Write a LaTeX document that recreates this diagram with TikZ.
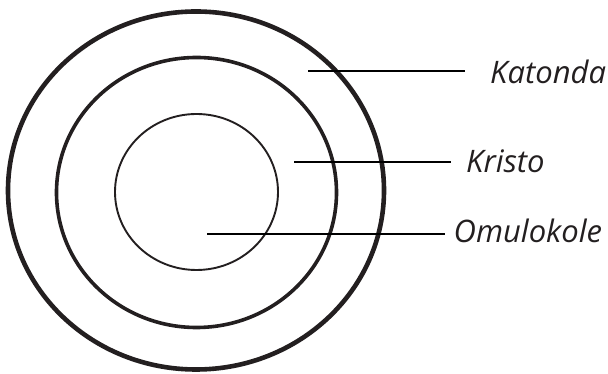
\documentclass[tikz,border=0pt]{standalone}
\usepackage{fontspec}
\setmainfont{Open Sans}
\definecolor{txt}{HTML}{231F20}
\begin{document}
\begin{tikzpicture}[x=1pt,y=1pt,
  ring/.style={draw=txt},
  leader/.style={draw=black,line width=2.2pt},
  lbl/.style={anchor=base west,inner sep=0pt,text=txt,font=\itshape\fontsize{31}{36}\selectfont}]
\useasboundingbox (0,0) rectangle (608,374);
\draw[ring,line width=4.6pt] (196,183.5) ellipse [x radius=188,y radius=179];
\draw[ring,line width=3.6pt] (196.5,181.5) ellipse [x radius=140,y radius=135];
\draw[ring,line width=1.9pt] (196.5,182) ellipse [x radius=81.5,y radius=78];
\node[lbl] (kat) at (490,290) {Katonda};
\node[lbl] (kri) at (466,201) {Kristo};
\node[lbl] (omu) at (453.5,131) {Omulokole};
\coordinate (katS) at (308,303);
\coordinate (kriS) at (294,212);
\coordinate (omuS) at (207,140);
\draw[leader] (katS) -- (465,303);
\draw[leader] (kriS) -- (451,212);
\draw[leader] (omuS) -- (444.5,140);
\end{tikzpicture}
\end{document}
